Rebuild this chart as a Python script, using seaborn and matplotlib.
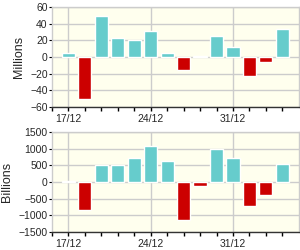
import pandas as pd
import seaborn as sns
import matplotlib.pyplot as plt
from matplotlib.ticker import MultipleLocator

days = ['17/12', '18/12', '19/12', '20/12', '21/12', '24/12', '25/12',
        '26/12', '27/12', '28/12', '31/12', '01/01', '02/01', '03/01']
millions = [5, -50, 49, 23, 20, 31, 5, -15, 1.5, 25, 12.5, -22.5, -6, 34]
billions = [40, -835, 515, 515, 735, 1095, 645, -1140, -110, 995, 735, -715, -385, 555]
tick_days = ['17/12', '24/12', '31/12']

pos_color = '#66CCCC'
neg_color = '#CC0000'

sns.set_style('white')
plt.rcParams['font.family'] = ['Liberation Sans', 'DejaVu Sans']

fig = plt.figure(figsize=(3, 2.5), dpi=100)
ax1 = fig.add_axes([0.173, 0.572, 0.823, 0.4])
ax2 = fig.add_axes([0.173, 0.072, 0.823, 0.4])


def draw(ax, vals, lim, step, label):
    df = pd.DataFrame({'day': days, 'val': vals})
    df['sign'] = ['pos' if v >= 0 else 'neg' for v in vals]
    sns.barplot(data=df, x='day', y='val', hue='sign', order=days,
                palette={'pos': pos_color, 'neg': neg_color}, saturation=1,
                dodge=False, width=0.8, legend=False, ax=ax, zorder=3)
    ax.set_facecolor('#FFFFEE')
    ax.set_xlim(-1, len(days))
    ax.set_ylim(-lim, lim)
    ax.yaxis.set_major_locator(MultipleLocator(step))
    major = [days.index(d) for d in tick_days]
    ax.set_xticks(major)
    ax.set_xticklabels(tick_days)
    ax.set_xticks(range(-1, len(days)), minor=True)
    ax.grid(True, which='major', color='#CCCCCC', linewidth=1, zorder=0)
    ax.set_axisbelow(True)
    for s in ax.spines.values():
        s.set_color('#CCCCCC')
        s.set_linewidth(1)
    ax.spines['bottom'].set_color('#333333')
    ax.tick_params(axis='x', which='both', length=3, width=1, color='black',
                   labelsize=7.5, pad=2, bottom=True)
    ax.tick_params(axis='y', length=2, color='black', labelsize=7.5, pad=1, left=True)
    ax.set_xlabel('')
    ax.set_ylabel(label, fontsize=9, labelpad=4)


draw(ax1, millions, 60, 20, 'Millions')
draw(ax2, billions, 1500, 500, 'Billions')

fig.savefig('out.png', dpi=100)
